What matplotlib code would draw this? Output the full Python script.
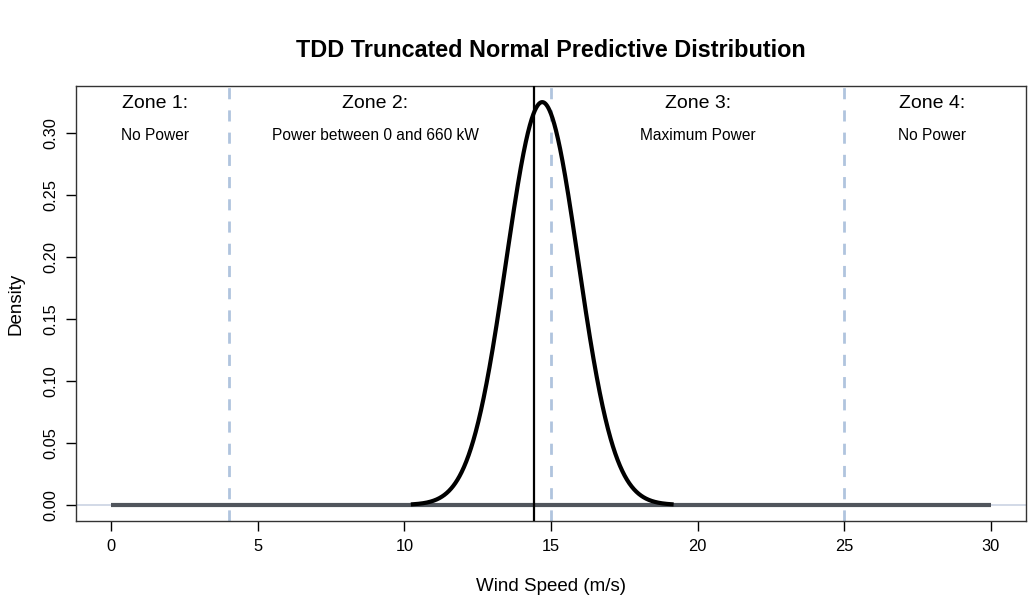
import math
import numpy as np
import matplotlib
matplotlib.use('Agg')
from matplotlib import pyplot as plt

plt.rcParams['font.family'] = ['Liberation Sans', 'DejaVu Sans']

# predictive distribution parameters
mu = 14.7
sigma = 1.2275
lower = 0.0
x_min, x_max = 0, 30
point_forecast = 14.41

zone_bounds = [4, 15, 25]
zone_titles = ['Zone 1:', 'Zone 2:', 'Zone 3:', 'Zone 4:']
zone_notes = ['No Power', 'Power between 0 and 660 kW',
              'Maximum Power', 'No Power']
zone_label_x = [1.5, 9, 20, 28]
x_ticks = [0, 5, 10, 15, 20, 25, 30]
y_ticks = [0.00, 0.05, 0.10, 0.15, 0.20, 0.25, 0.30]


def trunc_norm_pdf(x, m, s, a):
    z = 1.0 - 0.5 * (1 + math.erf((a - m) / (s * math.sqrt(2))))
    return np.exp(-0.5 * ((x - m) / s) ** 2) / (s * math.sqrt(2 * math.pi)) / z


x = np.linspace(x_min, x_max, 3001)
y = trunc_norm_pdf(x, mu, sigma, lower)

fig = plt.figure(figsize=(10.29, 5.99), dpi=100)
ax = fig.add_axes([0.0739, 0.1302, 0.9232, 0.7262])

ax.axhline(0, color='#cbd3e3', lw=1.2, zorder=1)
ax.plot([x_min, x_max], [0, 0], color='#50555c', lw=3.0,
        solid_capstyle='butt', zorder=2)
mask = y > 0.0005
ax.plot(x[mask], y[mask], color='black', lw=3.0, zorder=3)
for b in zone_bounds:
    ax.axvline(b, color='#b0c4de', lw=2.0, ls=(0, (4, 4)), zorder=2)
ax.axvline(point_forecast, color='black', lw=1.6, zorder=4)

for xl, t, n in zip(zone_label_x, zone_titles, zone_notes):
    ax.text(xl, 0.324, t, ha='center', va='center', fontsize=14)
    ax.text(xl, 0.298, n, ha='center', va='center', fontsize=11.2)

ax.set_xlim(-1.2, 31.2)
ax.set_ylim(-0.013, 0.338)
ax.set_xticks(x_ticks)
ax.set_xticklabels([str(v) for v in x_ticks])
ax.set_yticks(y_ticks)
ax.set_yticklabels(['%.2f' % v for v in y_ticks], rotation=90, va='center')
ax.tick_params(direction='out', length=7, width=1, labelsize=11.8, pad=6)
for sp in ax.spines.values():
    sp.set_linewidth(1.0)
    sp.set_color('#333333')

ax.set_xlabel('Wind Speed (m/s)', fontsize=13.5, labelpad=17)
ax.set_ylabel('Density', fontsize=13.5, labelpad=13)
fig.suptitle('TDD Truncated Normal Predictive Distribution',
             fontsize=16.8, fontweight='bold', x=0.535, y=0.935)

fig.savefig('out.png', dpi=100)
plt.close()
